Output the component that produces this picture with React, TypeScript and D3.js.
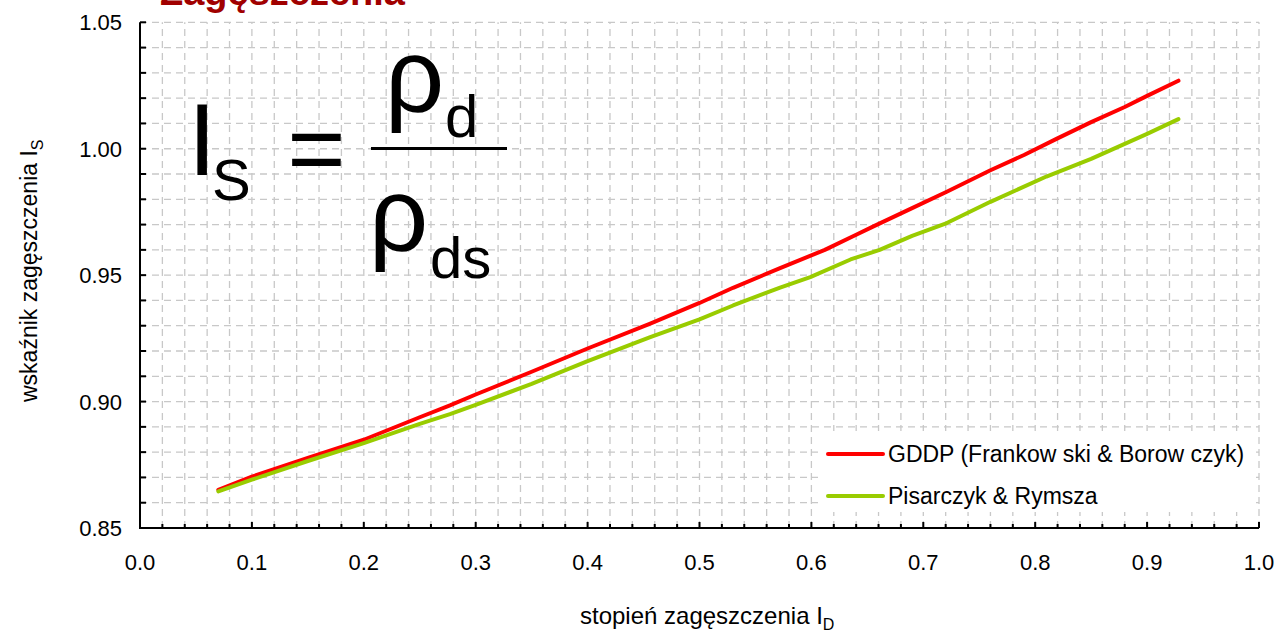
import React from "react";
import * as d3 from "d3";

// ---- data ----
const gddpX = [0.07, 0.1, 0.15, 0.2, 0.25, 0.277, 0.3, 0.35, 0.4, 0.456, 0.5, 0.53, 0.572, 0.612, 0.64, 0.655, 0.69, 0.721, 0.76, 0.79, 0.819, 0.85, 0.88, 0.9, 0.928];
const gddpY = [0.8651, 0.8703, 0.8777, 0.8849, 0.8938, 0.8985, 0.9028, 0.9118, 0.921, 0.9308, 0.939, 0.945, 0.9528, 0.96, 0.966, 0.9692, 0.9765, 0.983, 0.9915, 0.9975, 1.0039, 1.0105, 1.0165, 1.0209, 1.0269];
const pisX = [0.07, 0.1, 0.15, 0.2, 0.25, 0.277, 0.3, 0.35, 0.4, 0.456, 0.5, 0.53, 0.572, 0.599, 0.635, 0.661, 0.69, 0.721, 0.76, 0.81, 0.85, 0.9, 0.928];
const pisY = [0.8645, 0.8691, 0.8765, 0.8836, 0.8912, 0.895, 0.8987, 0.907, 0.916, 0.9255, 0.9325, 0.938, 0.9451, 0.9492, 0.9562, 0.96, 0.9655, 0.9706, 0.979, 0.989, 0.996, 1.0059, 1.0117];
const xTickLabels = ["0.0", "0.1", "0.2", "0.3", "0.4", "0.5", "0.6", "0.7", "0.8", "0.9", "1.0"];
const yTickLabels = ["0.85", "0.90", "0.95", "1.00", "1.05"];
const seriesNames = ["GDDP (Frankow ski & Borow czyk)", "Pisarczyk & Rymsza"];
const seriesColors = ["#ff0000", "#99cc00"];

const FONT = "Arial, 'Liberation Sans', sans-serif";

export default function App() {
  const x = d3.scaleLinear().domain([0, 1]).range([140, 1259]);
  const y = d3.scaleLinear().domain([0.85, 1.05]).range([528, 22.3]);

  const vGrid = d3.range(1, 51).map((i) => i * 0.02);
  const hGrid = d3.range(1, 21).map((i) => 0.85 + i * 0.01);
  const xMinor = d3.range(1, 51).map((i) => i * 0.02);
  const yMinor = d3.range(1, 21).map((i) => 0.85 + i * 0.01);

  const line = d3
    .line<[number, number]>()
    .x((d) => x(d[0]))
    .y((d) => y(d[1]))
    .curve(d3.curveLinear);

  const series = [
    gddpX.map((v, i) => [v, gddpY[i]] as [number, number]),
    pisX.map((v, i) => [v, pisY[i]] as [number, number]),
  ];

  return (
    <svg
      width={1279}
      height={633}
      style={{ position: "absolute", left: 0, top: 0, background: "#fff" }}
      fontFamily={FONT}
    >
      <rect x={0} y={0} width={1279} height={633} fill="#fff" />
      {/* grid */}
      <g stroke="#c8c8c8" strokeWidth={1.3} strokeDasharray="7,5">
        {vGrid.map((v, i) => (
          <line key={"v" + i} x1={x(v)} x2={x(v)} y1={y(0.85)} y2={y(1.05)} />
        ))}
        {hGrid.map((v, i) => (
          <line key={"h" + i} x1={x(0)} x2={x(1)} y1={y(v)} y2={y(v)} />
        ))}
      </g>

      {/* title (cut off at top, as in the reference) */}
      <text x={160} y={5} fontSize={38} fontWeight="bold" fill="#a00000">
        Zagęszczenia
      </text>

      {/* formula */}
      <g fill="#000">
        <text x={188} y={175} fontSize={102}>I</text>
        <text x={212} y={200} fontSize={58}>S</text>
        <text x={316.5} y={183} fontSize={100} textAnchor="middle">=</text>
        <rect x={371} y={147} width={136} height={3} />
        <text x={385} y={111} fontSize={104}>ρ</text>
        <text x={445} y={137} fontSize={60}>d</text>
        <text x={369} y={250} fontSize={104}>ρ</text>
        <text x={430} y={278} fontSize={58}>ds</text>
      </g>

      {/* series */}
      {series.map((s, i) => (
        <path
          key={i}
          d={line(s) || ""}
          fill="none"
          stroke={seriesColors[i]}
          strokeWidth={4}
          strokeLinejoin="round"
          strokeLinecap="round"
        />
      ))}

      {/* legend */}
      <rect x={818} y={431} width={434} height={81} fill="#fff" />
      {seriesNames.map((n, i) => (
        <g key={n}>
          <line
            x1={828}
            x2={883}
            y1={454 + i * 42}
            y2={454 + i * 42}
            stroke={seriesColors[i]}
            strokeWidth={4}
            strokeLinecap="round"
          />
          <text x={888} y={454 + i * 42 + 8} fontSize={23} fill="#000">
            {n}
          </text>
        </g>
      ))}

      {/* axes */}
      <g stroke="#000" strokeWidth={2}>
        <line x1={x(0)} x2={x(0)} y1={y(1.05)} y2={y(0.85) + 1} />
        <line x1={x(0) - 1} x2={x(1)} y1={y(0.85)} y2={y(0.85)} />
        {yMinor.map((v, i) => (
          <line key={"yt" + i} x1={x(0)} x2={x(0) + 6} y1={y(v)} y2={y(v)} />
        ))}
        {xMinor.map((v, i) => (
          <line
            key={"xt" + i}
            x1={x(v)}
            x2={x(v)}
            y1={y(0.85)}
            y2={y(0.85) - (i % 5 === 4 ? 6 : 4)}
          />
        ))}
      </g>

      {/* tick labels */}
      {yTickLabels.map((t) => (
        <text key={t} x={122} y={y(+t) + 8} fontSize={22} textAnchor="end" fill="#000">
          {t}
        </text>
      ))}
      {xTickLabels.map((t) => (
        <text key={t} x={x(+t)} y={570} fontSize={22} textAnchor="middle" fill="#000">
          {t}
        </text>
      ))}

      {/* axis titles */}
      <text x={580} y={624} fontSize={24} fill="#000">
        stopień zagęszczenia I<tspan fontSize={16} dy={6}>D</tspan>
      </text>
      <text
        transform="translate(37,402) rotate(-90)"
        x={0}
        y={0}
        fontSize={23}
        fill="#000"
      >
        wskaźnik zagęszczenia I<tspan fontSize={16} dy={6}>S</tspan>
      </text>
    </svg>
  );
}
